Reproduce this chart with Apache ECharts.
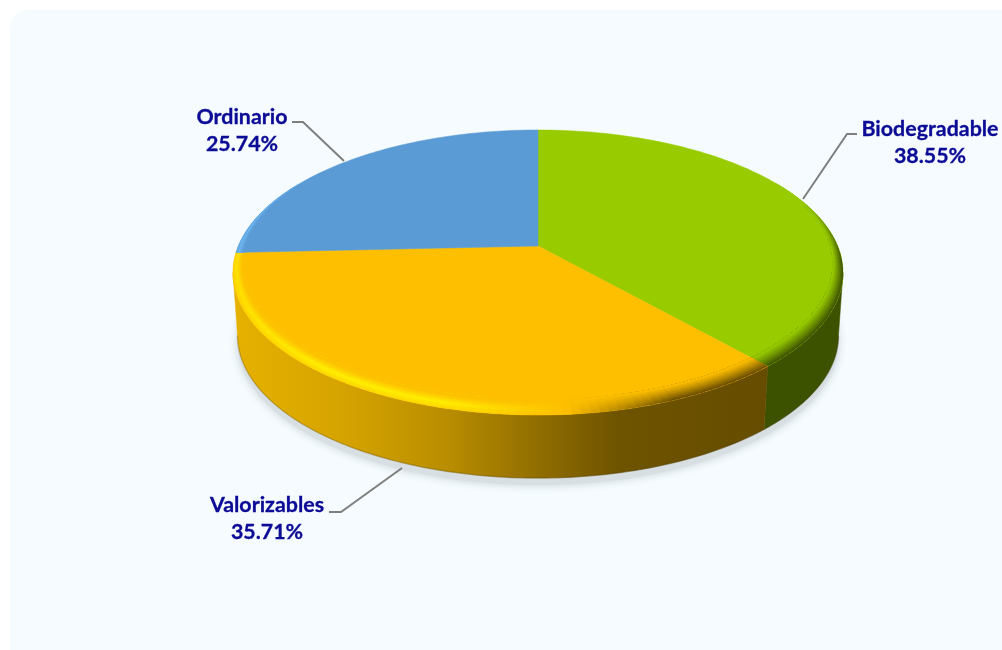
<!DOCTYPE html>
<html>
<head>
<meta charset="utf-8">
<style>html,body{margin:0;padding:0;background:#fff}#c{width:1002px;height:650px}</style>
<script src="https://cdn.jsdelivr.net/npm/echarts@6/dist/echarts.min.js"></script>
</head>
<body>
<div id="c"></div>
<script>
const categories = ['Biodegradable', 'Valorizables', 'Ordinario'];
const values = [38.55, 35.71, 25.74];

const topColors = ['#99cc00', '#fdbf00', '#5b9bd5'];
const rimLight = ['#aee000', '#ffee00', '#74bdf6'];
const rimDark = ['#3a4f00', '#664a00', '#2f4f6f'];
const labelPos = [
  {x: 930, y: 129, line: [[857,134],[847,134],[803,199]]},
  {x: 267, y: 505, line: [[329,512],[341,512],[402,468]]},
  {x: 242, y: 117, line: [[292,122],[303,122],[344,161]]}
];

// Projection of the pie's disc on the page (perspective)
const CX = 538, CY = 246, A = 299.7, B = 137.6, K = 0.186, DEPTH = 63, BASE_SCALE = 0.985;
function proj(r, th) {
  const u = r * Math.sin(th), v = r * Math.cos(th), w = 1 + K * v;
  return [CX + A * u / w, CY - B * v / w];
}
function baseOf(p) { return [CX + (p[0] - CX) * BASE_SCALE, p[1] + DEPTH]; }

const total = values.reduce((a, b) => a + b, 0);
const slices = [];
values.reduce((acc, v) => {
  slices.push({s: acc / total * 2 * Math.PI, e: (acc + v) / total * 2 * Math.PI});
  return acc + v;
}, 0);

// Silhouette angles: where the disc reaches its left and right extremes
const TH_R = Math.acos(-K), TH_L = 2 * Math.PI - TH_R;

function arc(s, e, r) {
  const n = Math.max(2, Math.ceil((e - s) / (Math.PI / 180)));
  const pts = [];
  for (let i = 0; i <= n; i++) pts.push(proj(r, s + (e - s) * i / n));
  return pts;
}
function hex(c) { return [1, 3, 5].map(i => parseInt(c.substr(i, 2), 16)); }
function mix(a, b, t) {
  const x = hex(a), y = hex(b);
  return 'rgb(' + x.map((q, i) => Math.round(q + (y[i] - q) * t)).join(',') + ')';
}
function clamp(t) { return Math.max(0, Math.min(1, t)); }

function sideFill(i) {
  if (i === 1) {
    return new echarts.graphic.LinearGradient(233, 0, 770, 0, [
      {offset: 0, color: '#e6b100'},
      {offset: 0.2, color: '#d6a400'},
      {offset: 0.4, color: '#b98d00'},
      {offset: 0.55, color: '#957100'},
      {offset: 0.72, color: '#6e5300'},
      {offset: 1, color: '#654c00'}
    ], true);
  }
  return i === 0 ? '#3d5200' : '#2f4f6f';
}

function renderShadow(params, api) {
  const pts = arc(0, 2 * Math.PI, 1).map(baseOf).map(p => [p[0], p[1] + 7]);
  return {type: 'polygon', silent: true, shape: {points: pts},
    style: {fill: '#d8dfe3', shadowBlur: 9, shadowColor: '#c8d1d6', shadowOffsetY: 0}};
}
function renderSide(params, api) {
  const i = params.dataIndex, sl = slices[i];
  const s = Math.max(sl.s, TH_R), e = Math.min(sl.e, TH_L);
  if (e <= s) return {type: 'group', children: []};
  const t = arc(s, e, 1), b = t.map(baseOf);
  const fill = sideFill(i);
  return {type: 'group', silent: true, children: [
    {type: 'polygon', shape: {points: t.concat(b.slice().reverse())},
      style: {fill, stroke: fill, lineWidth: 0.5}},
    {type: 'polyline', shape: {points: b},
      style: {fill: 'none', stroke: 'rgba(60,45,0,0.22)', lineWidth: 1.5}}
  ]};
}
function renderTop(params, api) {
  const i = params.dataIndex, sl = slices[i], base = topColors[i];
  const children = [{type: 'polygon',
    shape: {points: [[CX, CY]].concat(arc(sl.s, sl.e, 1))},
    style: {fill: base, stroke: base, lineWidth: 0.5}}];
  const step = 1.5 * Math.PI / 180, layers = 12;
  const n = Math.ceil((sl.e - sl.s) / step), da = (sl.e - sl.s) / n;
  const rimW = th => Math.max(0, 0.025 - 0.05 * Math.cos(th));
  // strength across the bevel: 0 outer edge, 1 inner edge
  const profLight = s => s < 0.4 ? 0.5 + 0.5 * s / 0.4 : Math.pow((1 - s) / 0.6, 1.5);
  const profDark = s => Math.pow(1 - s, 1.2);
  for (let l = 0; l < layers; l++) {
    const s0 = l / layers, sm = (l + 0.5) / layers;
    for (let j = 0; j < n; j++) {
      const a = sl.s + da * j, c = Math.min(sl.e, a + da * 1.5), m = a + da / 2;
      const wa = rimW(a), wc = rimW(c);
      if (wa + wc < 0.001) continue;
      const un = (proj(1, m)[0] - CX) / 305;
      const back = clamp((0.4 - Math.cos(m)) / 0.5);
      const D = clamp((un - 0.1) / 0.35) * back;
      const L = clamp((0.1 - un) / 0.4) * (1 - 0.25 * clamp((-0.75 - un) / 0.25));
      const col = D > 0 ? mix(base, rimDark[i], D * profDark(sm)) : mix(base, rimLight[i], L * profLight(sm));
      children.push({type: 'polygon',
        shape: {points: [proj(1 - wa * s0, a), proj(1 - wc * s0, c), proj(1 - wc, c), proj(1 - wa, a)]},
        style: {fill: col}});
    }
  }
  return {type: 'group', silent: true, children};
}
function renderLabel(params, api) {
  const i = params.dataIndex, lp = labelPos[i];
  const font = 'bold 21.4px Lato, "Noto Sans", sans-serif';
  const color = '#0b0b96';
  return {type: 'group', silent: true, children: [
    {type: 'polyline', shape: {points: lp.line},
      style: {fill: 'none', stroke: '#7f7f7f', lineWidth: 2}},
    {type: 'text', style: {text: categories[i], x: lp.x, y: lp.y, align: 'center', verticalAlign: 'middle', font, fill: color, stroke: color, lineWidth: 0.3}},
    {type: 'text', style: {text: values[i].toFixed(2) + '%', x: lp.x, y: lp.y + 27, align: 'center', verticalAlign: 'middle', font, fill: color, stroke: color, lineWidth: 0.3}}
  ]};
}

const data = categories.map((c, i) => ({name: c, value: values[i]}));
const chart = echarts.init(document.getElementById('c'), null, {renderer: 'canvas'});
chart.setOption({
  animation: false,
  backgroundColor: '#ffffff',
  tooltip: {show: false},
  graphic: [{type: 'rect', z: -10, silent: true,
    shape: {x: 10, y: 10, width: 1010, height: 660, r: 18},
    style: {fill: '#f5fbfe'}}],
  series: [
    {type: 'custom', coordinateSystem: 'none', z: 1, data: [data[0]], renderItem: renderShadow},
    {type: 'custom', coordinateSystem: 'none', z: 2, data, renderItem: renderSide},
    {type: 'custom', coordinateSystem: 'none', z: 3, data, renderItem: renderTop},
    {type: 'custom', coordinateSystem: 'none', z: 4, data, renderItem: renderLabel}
  ]
});
</script>
</body>
</html>
